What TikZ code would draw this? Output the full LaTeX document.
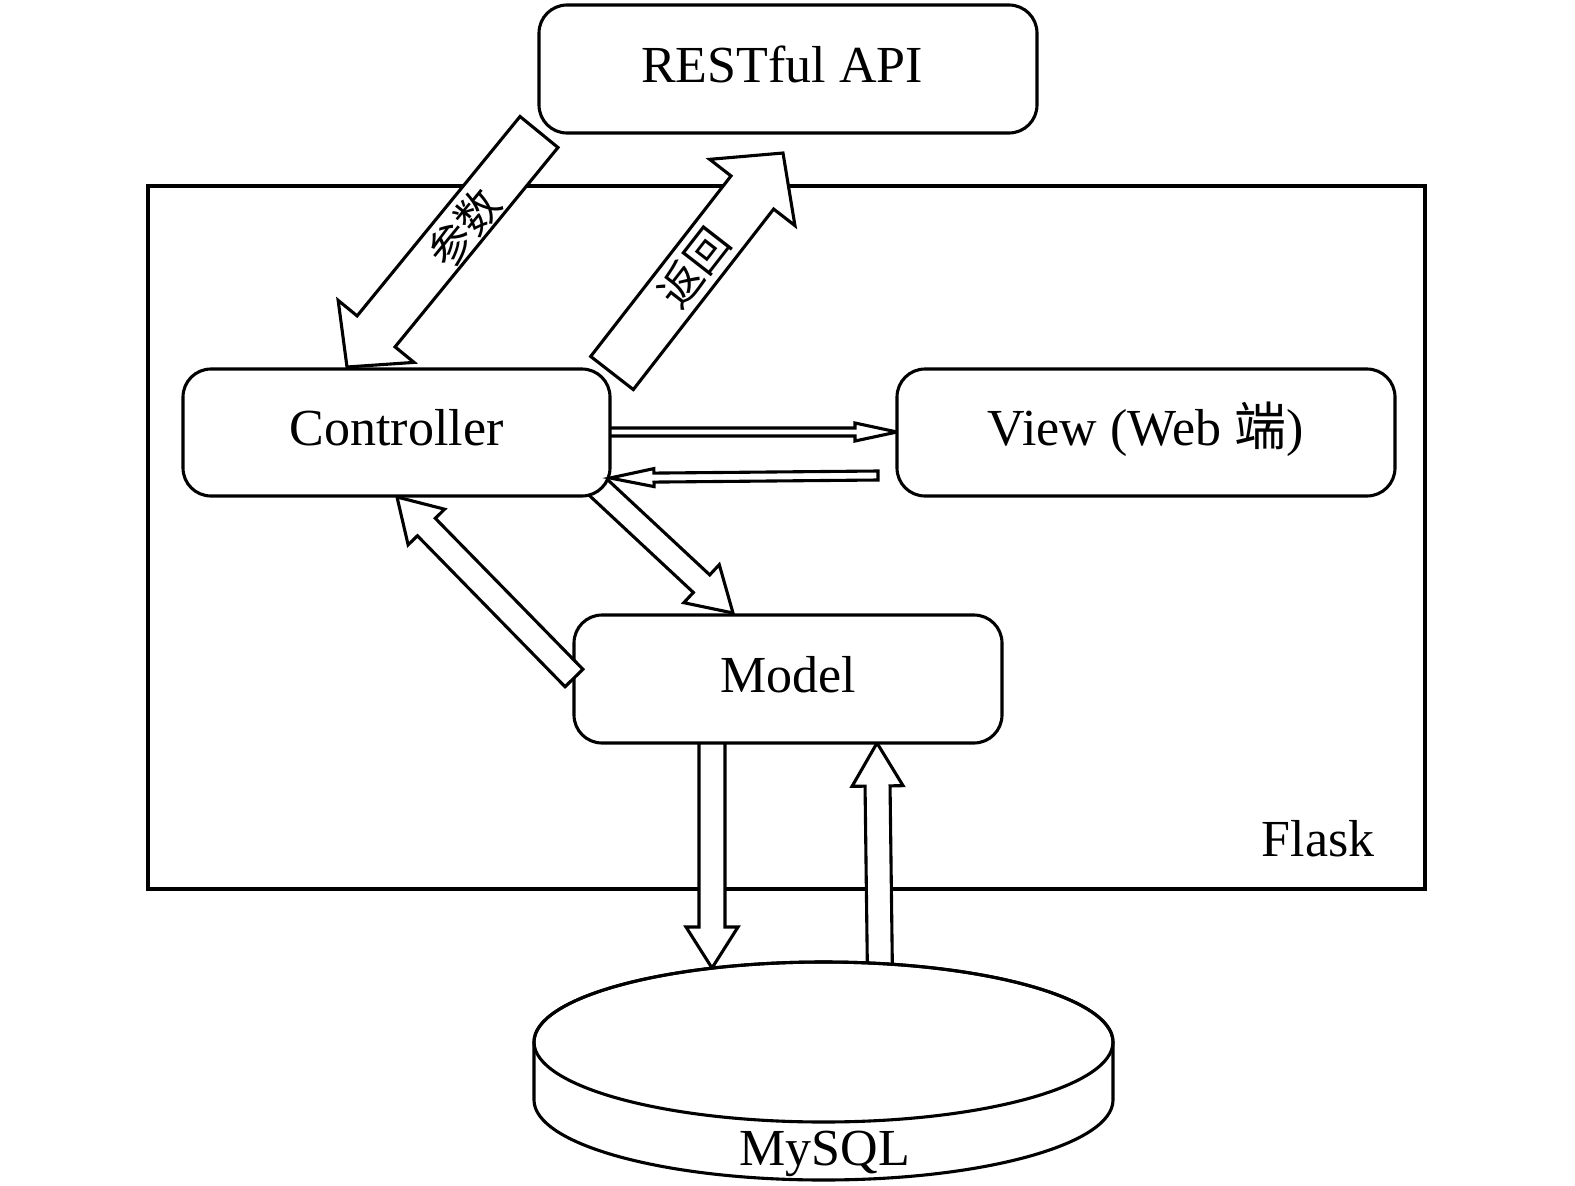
\documentclass[tikz,border=0pt]{standalone}
\usepackage{fontspec}
\setmainfont{Liberation Serif}
\newfontfamily\cjk{Noto Sans CJK SC}
\usetikzlibrary{calc}
\tikzset{
  box/.style={draw, fill=white, line width=3.1pt, rounded corners=28pt, inner sep=0pt, outer sep=0pt,
    font=\fontsize{52}{60}\selectfont, text height=26pt, text depth=0pt},
  blk/.style={draw, fill=white, line width=3.1pt, line join=miter},
  lbl/.style={font=\fontsize{52}{60}\selectfont, inner sep=0pt},
  alab/.style={font=\cjk\fontsize{43}{43}\selectfont, inner sep=0pt},
  frame/.style={draw, line width=3.1pt, inner sep=0pt, outer sep=0pt},
}
% #1 tail, #2 tip, #3 half shaft width, #4 half head width, #5 head length
\newcommand\blockarr[5]{%
  \coordinate (bah) at ($(#2)!#5!(#1)$);
  \draw[blk] ($(#1)!#3!90:(#2)$) -- ($(bah)!#3!90:(#2)$) -- ($(bah)!#4!90:(#2)$) -- (#2)
    -- ($(bah)!#4!-90:(#2)$) -- ($(bah)!#3!-90:(#2)$) -- ($(#1)!#3!-90:(#2)$) -- cycle;
}
\begin{document}
\begin{tikzpicture}[x=1pt,y=-1pt]
\useasboundingbox (0,0) rectangle (1575,1186);
\fill[white] (0,0) rectangle (1575,1186);

% Flask frame
\node[frame, minimum width=1277pt, minimum height=703pt] (flask) at (786.5,537.5) {};
\node[lbl, anchor=base] (flasktxt) at (1318,856) {Flask};

% arrow end coordinates
\coordinate (aT) at (539,132);  \coordinate (aP) at (347,367);
\coordinate (bT) at (612,373);  \coordinate (bP) at (783,153);
\coordinate (cT) at (590,432);  \coordinate (cP) at (897,432);
\coordinate (dT) at (878,475.5);\coordinate (dP) at (610,478);
\coordinate (eT) at (585,475);  \coordinate (eP) at (733,613);
\coordinate (fT) at (574,678);  \coordinate (fP) at (397,497);
\coordinate (gT) at (712,720);  \coordinate (gP) at (712,968);
\coordinate (hT) at (880,978);  \coordinate (hP) at (877,743);

% arrows beneath boxes
\blockarr{aT}{aP}{24.5pt}{49pt}{46pt}
\blockarr{cT}{cP}{4pt}{9pt}{42pt}
\blockarr{eT}{eP}{12pt}{26pt}{43pt}
\blockarr{gT}{gP}{13pt}{26pt}{41pt}
\blockarr{hT}{hP}{12.5pt}{25.5pt}{43pt}

% boxes
\node[box, minimum width=498pt, minimum height=128pt] (rest) at (788,69) {RESTful API\kern 12pt};
\node[box, minimum width=427pt, minimum height=127pt] (ctrl) at (396.5,432.5) {Controller};
\node[box, minimum width=498pt, minimum height=127pt] (view) at (1146,432.5) {View (Web {\cjk 端})};
\node[box, minimum width=428pt, minimum height=128pt] (model) at (788,679) {Model};

% arrows above boxes
\blockarr{bT}{bP}{27pt}{54pt}{50pt}
\blockarr{dT}{dP}{4.5pt}{9pt}{44pt}
\blockarr{fT}{fP}{12.5pt}{25.5pt}{42pt}

% arrow labels
\node[alab, rotate=50.7] (lab1) at (464,228) {参数};
\node[alab, rotate=52.1] (lab2) at (694,268) {返回};

% MySQL cylinder
\draw[line width=3.1pt, fill=white] (534,1042) -- (534,1100)
  arc[start angle=180, end angle=360, x radius=289.5pt, y radius=80pt]
  -- (1113,1042)
  arc[start angle=0, end angle=180, x radius=289.5pt, y radius=80pt] -- cycle;
\draw[line width=3.1pt] (823.5,1042) ellipse [x radius=289.5pt, y radius=80pt];
\node[lbl, anchor=base] (mysql) at (825,1165) {MySQL};
\end{tikzpicture}
\end{document}
